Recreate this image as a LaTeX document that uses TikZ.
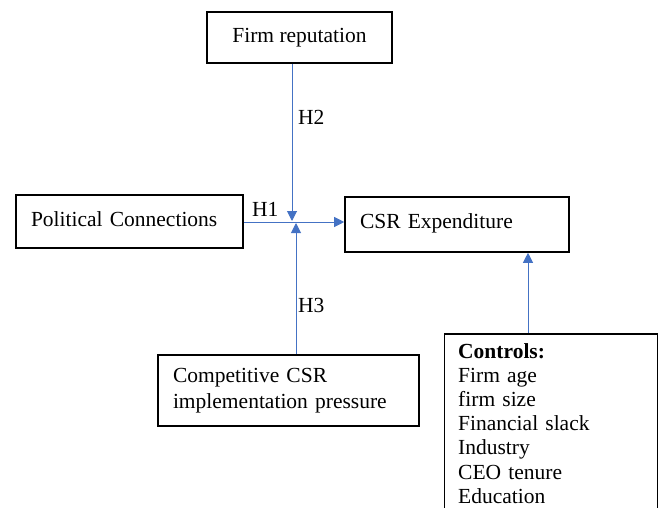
\documentclass[tikz,border=0pt]{standalone}
\usepackage{fontspec}
\setmainfont{Liberation Serif}
\usetikzlibrary{arrows.meta}
\definecolor{linkblue}{HTML}{4472C4}
\begin{document}
\begin{tikzpicture}[x=1pt,y=-1pt,
  box/.style={draw=black,line width=1.6pt,inner sep=0pt,font=\fontsize{21.5}{24.2}\selectfont},
  link/.style={draw=linkblue,line width=1pt,-{Triangle[length=10pt,width=10pt]}},
  hlabel/.style={font=\fontsize{21.5}{24}\selectfont,inner sep=0pt}]
\useasboundingbox (0,0) rectangle (658,508);
\node[box,minimum width=185pt,minimum height=51pt] (rep) at (299.5,37.5) {\raisebox{3pt}{Firm reputation}};
\node[box,minimum width=227pt,minimum height=53pt,text width=197pt,align=left] (pol) at (129.5,221.5) {\raisebox{4pt}{Political Connections}};
\node[box,minimum width=224pt,minimum height=55pt,text width=194pt,align=left] (csr) at (457,224.5) {\raisebox{6pt}{CSR Expenditure}};
\node[box,minimum width=261pt,minimum height=71pt,text width=231pt,align=left,font=\fontsize{21.5}{26}\selectfont] (comp) at (288.5,390.5) {\raisebox{2pt}{Competitive CSR}\\\raisebox{2pt}{implementation pressure}};
\node[box,anchor=north west,minimum width=213pt,minimum height=180pt] (ctrl) at (443.5,333) {};
\node[anchor=north west,inner sep=0pt,text width=184pt,align=left,font=\fontsize{21.5}{24.2}\selectfont] (ctrltext) at (458,343) {\textbf{Controls:}\\Firm age\\firm size\\Financial slack\\Industry\\CEO tenure\\Education};
\coordinate (mid) at (292,222);
\draw[link] (pol.east |- mid) -- (csr.west |- mid);
\draw[link] (rep.south -| mid) -- ([yshift=1pt]mid);
\draw[link] (comp.north -| 296,0) -- (296,223);
\draw[link] (ctrl.north -| 528,0) -- (csr.south -| 528,0);
\node[hlabel,anchor=west] (h1) at (252,209) {H1};
\node[hlabel,anchor=west] (h2) at (298,117) {H2};
\node[hlabel,anchor=west] (h3) at (298,305) {H3};
\end{tikzpicture}
\end{document}
